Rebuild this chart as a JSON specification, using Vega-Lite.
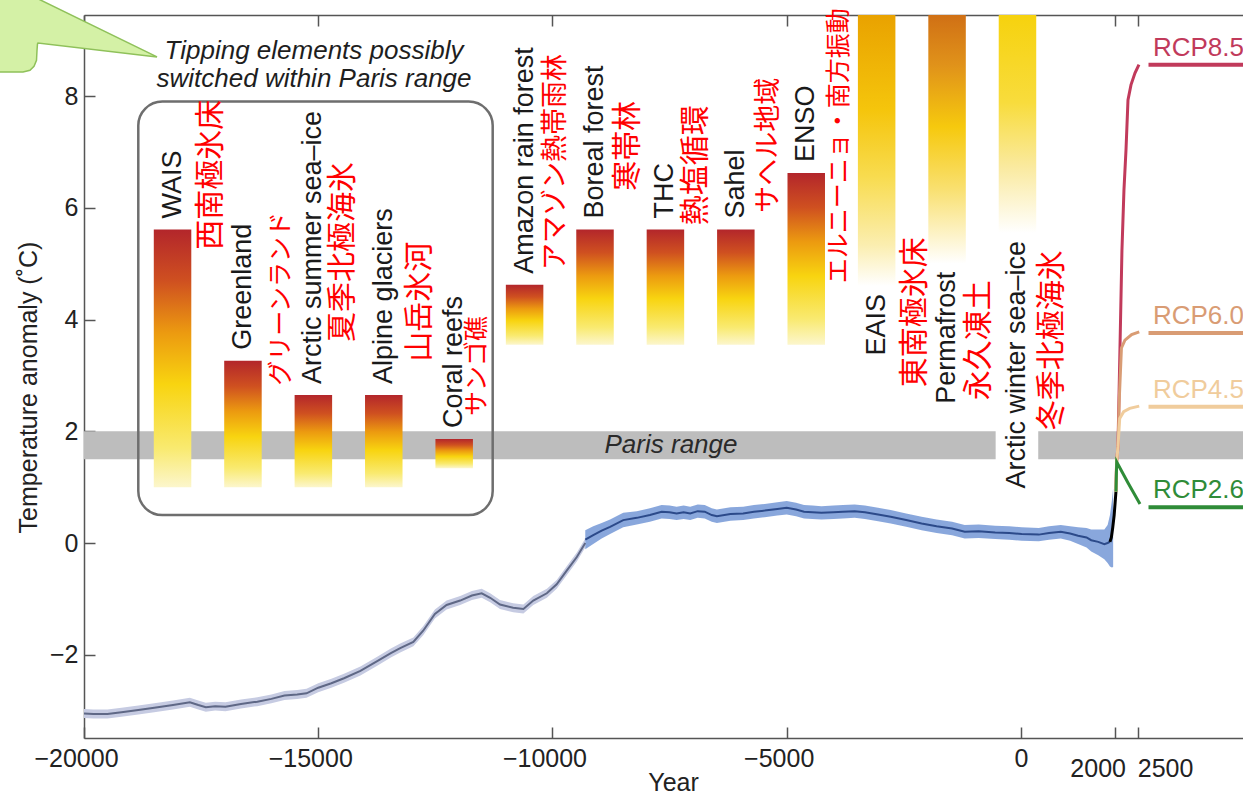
{
  "$schema": "https://vega.github.io/schema/vega-lite/v6.json",
  "width": 1159,
  "height": 723,
  "autosize": {"type": "none"},
  "padding": {"left": 84, "top": 15, "right": 0, "bottom": 57},
  "background": "white",
  "config": {
    "view": {"stroke": null},
    "axis": {
      "grid": false,
      "labelFont": "Liberation Sans",
      "titleFont": "Liberation Sans",
      "labelFontSize": 25,
      "titleFontSize": 25,
      "titleFontWeight": "normal",
      "labelColor": "#222222",
      "titleColor": "#222222",
      "domainColor": "#555555",
      "domainWidth": 1.5,
      "tickColor": "#555555",
      "tickWidth": 1.5,
      "tickSize": -11
    },
    "text": {"font": "Liberation Sans"}
  },
  "resolve": {"axis": {"x": "independent", "y": "independent"}},
  "datasets": {
    "parisBand": [
      {"start": -20000, "end": -540},
      {"start": 369, "end": 4740}
    ],
    "tipping": [
      {"element": "WAIS", "ja": "西南極氷床", "kind": "A", "center": -18110, "hi": 5.61, "lo": 1.0, "jaYear": -17289, "jaTemp": 6.59},
      {"element": "Greenland", "ja": "グリーンランド", "kind": "A", "center": -16607, "hi": 3.26, "lo": 1.0, "jaYear": -15795, "jaTemp": 4.37},
      {"element": "Arctic summer sea–ice", "ja": "夏季北極海氷", "kind": "A", "center": -15104, "hi": 2.65, "lo": 1.0, "jaYear": -14471, "jaTemp": 5.21},
      {"element": "Alpine glaciers", "ja": "山岳氷河", "kind": "A", "center": -13601, "hi": 2.65, "lo": 1.0, "jaYear": -12828, "jaTemp": 4.32},
      {"element": "Coral reefs", "ja": "サンゴ礁", "kind": "A", "center": -12098, "hi": 1.86, "lo": 1.34, "jaYear": -11611, "jaTemp": 3.17},
      {"element": "Amazon rain forest", "ja": "アマゾン熱帯雨林", "kind": "A", "center": -10595, "hi": 4.62, "lo": 3.55, "jaYear": -9925, "jaTemp": 6.82},
      {"element": "Boreal forest", "ja": "寒帯林", "kind": "A", "center": -9092, "hi": 5.61, "lo": 3.55, "jaYear": -8388, "jaTemp": 7.11},
      {"element": "THC", "ja": "熱塩循環", "kind": "A", "center": -7589, "hi": 5.61, "lo": 3.55, "jaYear": -6936, "jaTemp": 6.76},
      {"element": "Sahel", "ja": "サヘル地域", "kind": "A", "center": -6086, "hi": 5.61, "lo": 3.55, "jaYear": -5378, "jaTemp": 7.12},
      {"element": "ENSO", "ja": "エルニーニョ・南方振動", "kind": "A", "center": -4583, "hi": 6.62, "lo": 3.55, "jaYear": -3884, "jaTemp": 7.11},
      {"element": "EAIS", "ja": "東南極氷床", "kind": "B", "center": -3080, "hi": 9.45, "lo": 4.6, "jaYear": -2261, "jaTemp": 4.13},
      {"element": "Permafrost", "ja": "永久凍土", "kind": "B", "center": -1577, "hi": 9.45, "lo": 5.0, "jaYear": -895, "jaTemp": 3.63},
      {"element": "Arctic winter sea–ice", "ja": "冬季北極海氷", "kind": "B", "center": -74, "hi": 9.45, "lo": 5.55, "jaYear": 663, "jaTemp": 3.63}
    ],
    "glacial": [
      {"year": -20000, "t": -3.05, "lo": -3.13, "hi": -2.97},
      {"year": -19800, "t": -3.06, "lo": -3.14, "hi": -2.98},
      {"year": -19500, "t": -3.06, "lo": -3.14, "hi": -2.98},
      {"year": -19200, "t": -3.03, "lo": -3.11, "hi": -2.95},
      {"year": -18840, "t": -2.99, "lo": -3.07, "hi": -2.91},
      {"year": -18500, "t": -2.95, "lo": -3.03, "hi": -2.87},
      {"year": -18100, "t": -2.90, "lo": -2.98, "hi": -2.82},
      {"year": -17740, "t": -2.85, "lo": -2.93, "hi": -2.77},
      {"year": -17560, "t": -2.90, "lo": -2.98, "hi": -2.82},
      {"year": -17400, "t": -2.94, "lo": -3.02, "hi": -2.86},
      {"year": -17200, "t": -2.92, "lo": -3.00, "hi": -2.84},
      {"year": -16980, "t": -2.93, "lo": -3.01, "hi": -2.85},
      {"year": -16650, "t": -2.88, "lo": -2.96, "hi": -2.80},
      {"year": -16300, "t": -2.84, "lo": -2.92, "hi": -2.76},
      {"year": -16000, "t": -2.79, "lo": -2.87, "hi": -2.71},
      {"year": -15720, "t": -2.73, "lo": -2.81, "hi": -2.65},
      {"year": -15450, "t": -2.71, "lo": -2.79, "hi": -2.63},
      {"year": -15250, "t": -2.69, "lo": -2.77, "hi": -2.61},
      {"year": -15000, "t": -2.59, "lo": -2.67, "hi": -2.51},
      {"year": -14720, "t": -2.51, "lo": -2.59, "hi": -2.43},
      {"year": -14450, "t": -2.42, "lo": -2.50, "hi": -2.34},
      {"year": -14100, "t": -2.29, "lo": -2.37, "hi": -2.21},
      {"year": -13750, "t": -2.12, "lo": -2.20, "hi": -2.04},
      {"year": -13450, "t": -1.97, "lo": -2.05, "hi": -1.89},
      {"year": -13250, "t": -1.88, "lo": -1.96, "hi": -1.80},
      {"year": -12970, "t": -1.77, "lo": -1.85, "hi": -1.69},
      {"year": -12760, "t": -1.57, "lo": -1.65, "hi": -1.49},
      {"year": -12510, "t": -1.27, "lo": -1.35, "hi": -1.19},
      {"year": -12260, "t": -1.11, "lo": -1.19, "hi": -1.03},
      {"year": -11970, "t": -1.03, "lo": -1.11, "hi": -0.95},
      {"year": -11720, "t": -0.94, "lo": -1.02, "hi": -0.86},
      {"year": -11510, "t": -0.90, "lo": -0.98, "hi": -0.82},
      {"year": -11330, "t": -0.98, "lo": -1.06, "hi": -0.90},
      {"year": -11120, "t": -1.10, "lo": -1.18, "hi": -1.02},
      {"year": -10840, "t": -1.16, "lo": -1.24, "hi": -1.08},
      {"year": -10620, "t": -1.18, "lo": -1.26, "hi": -1.10},
      {"year": -10410, "t": -1.03, "lo": -1.11, "hi": -0.95},
      {"year": -10120, "t": -0.90, "lo": -0.98, "hi": -0.82},
      {"year": -9910, "t": -0.74, "lo": -0.82, "hi": -0.66},
      {"year": -9700, "t": -0.50, "lo": -0.58, "hi": -0.42},
      {"year": -9480, "t": -0.25, "lo": -0.33, "hi": -0.17},
      {"year": -9300, "t": 0.00, "lo": -0.08, "hi": 0.08}
    ],
    "holocene": [
      {"year": -9300, "t": 0.06, "lo": -0.11, "hi": 0.23},
      {"year": -9130, "t": 0.14, "lo": -0.02, "hi": 0.30},
      {"year": -8950, "t": 0.22, "lo": 0.08, "hi": 0.36},
      {"year": -8770, "t": 0.29, "lo": 0.16, "hi": 0.42},
      {"year": -8490, "t": 0.41, "lo": 0.28, "hi": 0.54},
      {"year": -8200, "t": 0.45, "lo": 0.33, "hi": 0.57},
      {"year": -7920, "t": 0.50, "lo": 0.38, "hi": 0.62},
      {"year": -7670, "t": 0.56, "lo": 0.44, "hi": 0.68},
      {"year": -7500, "t": 0.55, "lo": 0.43, "hi": 0.67},
      {"year": -7350, "t": 0.53, "lo": 0.41, "hi": 0.65},
      {"year": -7200, "t": 0.55, "lo": 0.43, "hi": 0.67},
      {"year": -7060, "t": 0.53, "lo": 0.41, "hi": 0.65},
      {"year": -6900, "t": 0.57, "lo": 0.45, "hi": 0.69},
      {"year": -6750, "t": 0.56, "lo": 0.44, "hi": 0.68},
      {"year": -6600, "t": 0.50, "lo": 0.38, "hi": 0.62},
      {"year": -6490, "t": 0.48, "lo": 0.36, "hi": 0.60},
      {"year": -6200, "t": 0.52, "lo": 0.40, "hi": 0.64},
      {"year": -5930, "t": 0.53, "lo": 0.41, "hi": 0.65},
      {"year": -5700, "t": 0.56, "lo": 0.44, "hi": 0.68},
      {"year": -5470, "t": 0.58, "lo": 0.46, "hi": 0.70},
      {"year": -5200, "t": 0.61, "lo": 0.49, "hi": 0.73},
      {"year": -5000, "t": 0.63, "lo": 0.51, "hi": 0.75},
      {"year": -4800, "t": 0.60, "lo": 0.48, "hi": 0.72},
      {"year": -4630, "t": 0.56, "lo": 0.44, "hi": 0.68},
      {"year": -4450, "t": 0.55, "lo": 0.43, "hi": 0.67},
      {"year": -4260, "t": 0.54, "lo": 0.42, "hi": 0.66},
      {"year": -4000, "t": 0.55, "lo": 0.43, "hi": 0.67},
      {"year": -3800, "t": 0.56, "lo": 0.44, "hi": 0.68},
      {"year": -3550, "t": 0.57, "lo": 0.45, "hi": 0.69},
      {"year": -3330, "t": 0.55, "lo": 0.43, "hi": 0.67},
      {"year": -3050, "t": 0.51, "lo": 0.39, "hi": 0.63},
      {"year": -2780, "t": 0.47, "lo": 0.35, "hi": 0.59},
      {"year": -2450, "t": 0.41, "lo": 0.29, "hi": 0.53},
      {"year": -2120, "t": 0.35, "lo": 0.23, "hi": 0.47},
      {"year": -1800, "t": 0.30, "lo": 0.18, "hi": 0.42},
      {"year": -1470, "t": 0.26, "lo": 0.14, "hi": 0.38},
      {"year": -1200, "t": 0.20, "lo": 0.08, "hi": 0.32},
      {"year": -900, "t": 0.21, "lo": 0.09, "hi": 0.33},
      {"year": -550, "t": 0.19, "lo": 0.07, "hi": 0.31},
      {"year": -250, "t": 0.18, "lo": 0.06, "hi": 0.30},
      {"year": 15, "t": 0.16, "lo": 0.04, "hi": 0.28},
      {"year": 380, "t": 0.15, "lo": 0.03, "hi": 0.27},
      {"year": 600, "t": 0.18, "lo": 0.06, "hi": 0.30},
      {"year": 850, "t": 0.20, "lo": 0.08, "hi": 0.32},
      {"year": 1050, "t": 0.17, "lo": 0.04, "hi": 0.30},
      {"year": 1220, "t": 0.13, "lo": -0.02, "hi": 0.28},
      {"year": 1400, "t": 0.10, "lo": -0.08, "hi": 0.27},
      {"year": 1500, "t": 0.05, "lo": -0.15, "hi": 0.24},
      {"year": 1650, "t": 0.02, "lo": -0.22, "hi": 0.24},
      {"year": 1780, "t": -0.02, "lo": -0.29, "hi": 0.24},
      {"year": 1850, "t": 0.00, "lo": -0.36, "hi": 0.32},
      {"year": 1900, "t": 0.02, "lo": -0.42, "hi": 0.50},
      {"year": 1940, "t": null, "lo": -0.44, "hi": 0.75},
      {"year": 1968, "t": null, "lo": -0.43, "hi": 0.98}
    ],
    "instrumental": [
      {"year": 1900, "t": 0.02},
      {"year": 1930, "t": 0.10},
      {"year": 1960, "t": 0.28},
      {"year": 1990, "t": 0.50},
      {"year": 2010, "t": 0.72},
      {"year": 2028, "t": 0.92}
    ],
    "rcp": [
      {"scenario": "RCP8.5", "year": 2028, "t": 0.92},
      {"scenario": "RCP8.5", "year": 2042, "t": 1.45},
      {"scenario": "RCP8.5", "year": 2071, "t": 1.72},
      {"scenario": "RCP8.5", "year": 2113, "t": 3.45},
      {"scenario": "RCP8.5", "year": 2156, "t": 5.24},
      {"scenario": "RCP8.5", "year": 2199, "t": 6.32},
      {"scenario": "RCP8.5", "year": 2242, "t": 7.03},
      {"scenario": "RCP8.5", "year": 2285, "t": 7.93},
      {"scenario": "RCP8.5", "year": 2349, "t": 8.20},
      {"scenario": "RCP8.5", "year": 2434, "t": 8.41},
      {"scenario": "RCP8.5", "year": 2519, "t": 8.56},
      {"scenario": "RCP6.0", "year": 2028, "t": 0.92},
      {"scenario": "RCP6.0", "year": 2042, "t": 1.45},
      {"scenario": "RCP6.0", "year": 2071, "t": 1.72},
      {"scenario": "RCP6.0", "year": 2100, "t": 2.60},
      {"scenario": "RCP6.0", "year": 2145, "t": 3.49},
      {"scenario": "RCP6.0", "year": 2220, "t": 3.63},
      {"scenario": "RCP6.0", "year": 2363, "t": 3.73},
      {"scenario": "RCP6.0", "year": 2525, "t": 3.78},
      {"scenario": "RCP4.5", "year": 2028, "t": 0.92},
      {"scenario": "RCP4.5", "year": 2042, "t": 1.45},
      {"scenario": "RCP4.5", "year": 2071, "t": 1.72},
      {"scenario": "RCP4.5", "year": 2108, "t": 2.23},
      {"scenario": "RCP4.5", "year": 2193, "t": 2.35},
      {"scenario": "RCP4.5", "year": 2321, "t": 2.41},
      {"scenario": "RCP4.5", "year": 2525, "t": 2.45},
      {"scenario": "RCP2.6", "year": 2028, "t": 0.92},
      {"scenario": "RCP2.6", "year": 2044, "t": 1.45},
      {"scenario": "RCP2.6", "year": 2290, "t": 1.07},
      {"scenario": "RCP2.6", "year": 2541, "t": 0.70}
    ],
    "rcpLevels": [
      {"scenario": "RCP8.5", "t": 8.56},
      {"scenario": "RCP6.0", "t": 3.76},
      {"scenario": "RCP4.5", "t": 2.44},
      {"scenario": "RCP2.6", "t": 0.64}
    ],
    "bubble": [
      {"bx": -21900, "btop": 9.81, "bbot": 8.43},
      {"bx": -21302, "btop": 9.81, "bbot": 8.43},
      {"bx": -21153, "btop": 9.81, "bbot": 8.46},
      {"bx": -21067, "btop": 9.81, "bbot": 8.53},
      {"bx": -21014, "btop": 9.81, "bbot": 8.64},
      {"bx": -21003, "btop": 9.81, "bbot": 8.82},
      {"bx": -20993, "btop": 9.81, "bbot": 8.93},
      {"bx": -20982, "btop": 9.74, "bbot": 8.95},
      {"bx": -18442, "btop": 8.70, "bbot": 8.70}
    ]
  },
  "layer": [
    {
      "data": {"name": "parisBand"},
      "mark": {"type": "rect", "color": "#bdbdbd"},
      "encoding": {
        "x": {
          "field": "start", "type": "quantitative",
          "scale": {"domain": [-20000, 4740], "nice": false, "zero": false, "padding": 0},
          "axis": {
            "orient": "top",
            "values": [-20000, -15000, -10000, -5000, 0, 2000, 2500],
            "labels": false,
            "title": null
          }
        },
        "x2": {"field": "end"},
        "y": {"datum": 1.5, "type": "quantitative", "scale": {"domain": [-3.49, 9.45], "nice": false, "zero": false, "padding": 0}, "axis": null},
        "y2": {"datum": 2.0}
      }
    },
    {
      "data": {"values": [{}]},
      "mark": {"type": "rect", "filled": false, "stroke": "#6e6e6e", "strokeWidth": 2.5, "cornerRadius": 24},
      "encoding": {
        "x": {"datum": -18841, "type": "quantitative", "axis": null},
        "x2": {"datum": -11276},
        "y": {"datum": 7.9, "type": "quantitative", "axis": null},
        "y2": {"datum": 0.5}
      }
    },
    {
      "data": {"name": "tipping"},
      "transform": [{"filter": "datum.kind == 'A'"}],
      "mark": {
        "type": "bar", "width": 37.5,
        "color": {"gradient": "linear", "x1": 0, "y1": 0, "x2": 0, "y2": 1, "stops": [
          {"offset": 0, "color": "#b3262b"},
          {"offset": 0.2, "color": "#cf5020"},
          {"offset": 0.4, "color": "#ec9a10"},
          {"offset": 0.6, "color": "#f8d410"},
          {"offset": 0.85, "color": "#f9ea70"},
          {"offset": 1, "color": "#fcf6cc"}
        ]}
      },
      "encoding": {
        "x": {"field": "center", "type": "quantitative", "axis": null},
        "y": {"field": "hi", "type": "quantitative", "axis": null},
        "y2": {"field": "lo"}
      }
    },
    {
      "data": {"name": "tipping"},
      "transform": [{"filter": "datum.element == 'EAIS'"}],
      "mark": {
        "type": "bar", "width": 37.5,
        "color": {"gradient": "linear", "x1": 0, "y1": 0, "x2": 0, "y2": 1, "stops": [
          {"offset": 0, "color": "#e9a200"},
          {"offset": 0.35, "color": "#f5c50c"},
          {"offset": 0.6, "color": "#f8dc50"},
          {"offset": 0.85, "color": "#fbeeb0"},
          {"offset": 1, "color": "#ffffff"}
        ]}
      },
      "encoding": {
        "x": {"field": "center", "type": "quantitative", "axis": null},
        "y": {"field": "hi", "type": "quantitative", "axis": null},
        "y2": {"field": "lo"}
      }
    },
    {
      "data": {"name": "tipping"},
      "transform": [{"filter": "datum.element == 'Permafrost'"}],
      "mark": {
        "type": "bar", "width": 37.5,
        "color": {"gradient": "linear", "x1": 0, "y1": 0, "x2": 0, "y2": 1, "stops": [
          {"offset": 0, "color": "#d07015"},
          {"offset": 0.2, "color": "#e0921a"},
          {"offset": 0.45, "color": "#f6c90e"},
          {"offset": 0.7, "color": "#f9e070"},
          {"offset": 1, "color": "#ffffff"}
        ]}
      },
      "encoding": {
        "x": {"field": "center", "type": "quantitative", "axis": null},
        "y": {"field": "hi", "type": "quantitative", "axis": null},
        "y2": {"field": "lo"}
      }
    },
    {
      "data": {"name": "tipping"},
      "transform": [{"filter": "datum.element == 'Arctic winter sea–ice'"}],
      "mark": {
        "type": "bar", "width": 37.5,
        "color": {"gradient": "linear", "x1": 0, "y1": 0, "x2": 0, "y2": 1, "stops": [
          {"offset": 0, "color": "#f6d20e"},
          {"offset": 0.4, "color": "#f8dc3c"},
          {"offset": 0.7, "color": "#faeaa0"},
          {"offset": 1, "color": "#ffffff"}
        ]}
      },
      "encoding": {
        "x": {"field": "center", "type": "quantitative", "axis": null},
        "y": {"field": "hi", "type": "quantitative", "axis": null},
        "y2": {"field": "lo"}
      }
    },
    {
      "data": {"name": "glacial"},
      "mark": {"type": "area", "color": "#c6cbe2"},
      "encoding": {
        "x": {"field": "year", "type": "quantitative", "axis": null},
        "y": {"field": "lo", "type": "quantitative", "axis": null},
        "y2": {"field": "hi"}
      }
    },
    {
      "data": {"name": "holocene"},
      "mark": {"type": "area", "color": "#7c9dd8", "opacity": 0.9},
      "encoding": {
        "x": {"field": "year", "type": "quantitative", "axis": null},
        "y": {"field": "lo", "type": "quantitative", "axis": null},
        "y2": {"field": "hi"}
      }
    },
    {
      "data": {"name": "glacial"},
      "mark": {"type": "line", "color": "#5f6886", "strokeWidth": 2},
      "encoding": {
        "x": {
          "field": "year", "type": "quantitative",
          "axis": {
            "orient": "bottom",
            "values": [-20000, -15000, -10000, -5000, 0, 2000, 2500],
            "format": "d",
            "title": "Year",
            "labelFlush": false,
            "labelOverlap": false,
            "labelPadding": {"condition": {"test": "datum.value >= 2000", "value": 29}, "value": 19},
            "labelOffset": {"condition": [
              {"test": "datum.value < 0", "value": -8},
              {"test": "datum.value == 2000", "value": -17},
              {"test": "datum.value == 2500", "value": 27}
            ], "value": 0},
            "titleX": 589,
            "titleY": 32,
            "titleBaseline": "top",
            "titleAlign": "center"
          }
        },
        "y": {
          "field": "t", "type": "quantitative",
          "axis": {
            "orient": "left",
            "values": [-2, 0, 2, 4, 6, 8],
            "title": "Temperature anomaly (˚C)",
            "labelPadding": 17,
            "labelFlush": false,
            "titleX": -56,
            "titleY": 372,
            "titleAngle": 270,
            "titleAlign": "center",
            "titleBaseline": "middle"
          }
        }
      }
    },
    {
      "data": {"name": "holocene"},
      "mark": {"type": "line", "color": "#2c4a8a", "strokeWidth": 2},
      "encoding": {
        "x": {"field": "year", "type": "quantitative", "axis": null},
        "y": {"field": "t", "type": "quantitative", "axis": null}
      }
    },
    {
      "data": {"name": "instrumental"},
      "mark": {"type": "line", "color": "#000000", "strokeWidth": 3},
      "encoding": {
        "x": {"field": "year", "type": "quantitative", "axis": null},
        "y": {"field": "t", "type": "quantitative", "axis": null}
      }
    },
    {
      "data": {"name": "rcp"},
      "mark": {"type": "line", "strokeWidth": 3},
      "encoding": {
        "x": {"field": "year", "type": "quantitative", "axis": null},
        "y": {"field": "t", "type": "quantitative", "axis": null},
        "color": {"field": "scenario", "type": "nominal", "legend": null,
          "scale": {"domain": ["RCP8.5", "RCP6.0", "RCP4.5", "RCP2.6"], "range": ["#c13a5b", "#d99c74", "#f0cc9c", "#2f8c38"]}}
      }
    },
    {
      "data": {"name": "rcpLevels"},
      "mark": {"type": "rule", "strokeWidth": 4},
      "encoding": {
        "x": {"datum": 2723, "type": "quantitative", "axis": null},
        "x2": {"datum": 4740},
        "y": {"field": "t", "type": "quantitative", "axis": null},
        "color": {"field": "scenario", "type": "nominal", "legend": null}
      }
    },
    {
      "data": {"name": "rcpLevels"},
      "mark": {"type": "text", "align": "left", "baseline": "alphabetic", "dy": -9, "fontSize": 26, "font": "Liberation Sans"},
      "encoding": {
        "x": {"datum": 2818, "type": "quantitative", "axis": null},
        "y": {"field": "t", "type": "quantitative", "axis": null},
        "text": {"field": "scenario"},
        "color": {"field": "scenario", "type": "nominal", "legend": null}
      }
    },
    {
      "data": {"name": "tipping"},
      "transform": [{"filter": "datum.kind == 'A'"}],
      "mark": {"type": "text", "angle": 270, "align": "left", "baseline": "middle", "dx": 11, "fontSize": 27, "font": "Liberation Sans", "color": "#1a1a1a"},
      "encoding": {
        "x": {"field": "center", "type": "quantitative", "axis": null},
        "y": {"field": "hi", "type": "quantitative", "axis": null},
        "text": {"field": "element"}
      }
    },
    {
      "data": {"name": "tipping"},
      "transform": [{"filter": "datum.kind == 'B'"}],
      "mark": {"type": "text", "angle": 270, "align": "right", "baseline": "middle", "dx": -8, "fontSize": 27, "font": "Liberation Sans", "color": "#1a1a1a"},
      "encoding": {
        "x": {"field": "center", "type": "quantitative", "axis": null},
        "y": {"field": "lo", "type": "quantitative", "axis": null},
        "text": {"field": "element"}
      }
    },
    {
      "data": {"name": "tipping"},
      "transform": [{"filter": "datum.element != 'Greenland' && datum.element != 'Coral reefs' && datum.element != 'Amazon rain forest' && datum.element != 'Sahel' && datum.element != 'ENSO'"}],
      "mark": {"type": "text", "angle": 270, "align": "center", "baseline": "middle", "fontSize": 30, "font": "Noto Sans CJK JP", "color": "#ff0000"},
      "encoding": {
        "x": {"field": "jaYear", "type": "quantitative", "axis": null},
        "y": {"field": "jaTemp", "type": "quantitative", "axis": null},
        "text": {"field": "ja"}
      }
    },
    {
      "data": {"name": "tipping"},
      "transform": [{"filter": "datum.element == 'Amazon rain forest' || datum.element == 'Sahel'"}],
      "mark": {"type": "text", "angle": 270, "align": "center", "baseline": "middle", "fontSize": 27, "font": "Noto Sans CJK JP", "color": "#ff0000"},
      "encoding": {
        "x": {"field": "jaYear", "type": "quantitative", "axis": null},
        "y": {"field": "jaTemp", "type": "quantitative", "axis": null},
        "text": {"field": "ja"}
      }
    },
    {
      "data": {"name": "tipping"},
      "transform": [{"filter": "datum.element == 'Greenland' || datum.element == 'Coral reefs' || datum.element == 'ENSO'"}],
      "mark": {"type": "text", "angle": 270, "align": "center", "baseline": "middle", "fontSize": 25, "font": "Noto Sans CJK JP", "color": "#ff0000"},
      "encoding": {
        "x": {"field": "jaYear", "type": "quantitative", "axis": null},
        "y": {"field": "jaTemp", "type": "quantitative", "axis": null},
        "text": {"field": "ja"}
      }
    },
    {
      "data": {"values": [{}]},
      "mark": {"type": "text", "align": "center", "baseline": "alphabetic", "fontSize": 26, "fontStyle": "italic", "lineHeight": 28, "font": "Liberation Sans", "color": "#1e1e1e"},
      "encoding": {
        "x": {"datum": -15090, "type": "quantitative", "axis": null},
        "y": {"datum": 8.66, "type": "quantitative", "axis": null},
        "text": {"value": ["Tipping elements possibly", "switched within Paris range"]}
      }
    },
    {
      "data": {"values": [{}]},
      "mark": {"type": "text", "align": "center", "baseline": "middle", "fontSize": 26, "fontStyle": "italic", "font": "Liberation Sans", "color": "#2a2a2a"},
      "encoding": {
        "x": {"datum": -7470, "type": "quantitative", "axis": null},
        "y": {"datum": 1.75, "type": "quantitative", "axis": null},
        "text": {"value": "Paris range"}
      }
    },
    {
      "data": {"name": "bubble"},
      "mark": {"type": "area", "color": "#d4f1a6", "stroke": "#8fc15a", "strokeWidth": 1.5, "interpolate": "linear"},
      "encoding": {
        "x": {"field": "bx", "type": "quantitative", "axis": null},
        "y": {"field": "btop", "type": "quantitative", "axis": null},
        "y2": {"field": "bbot"}
      }
    }
  ]
}
